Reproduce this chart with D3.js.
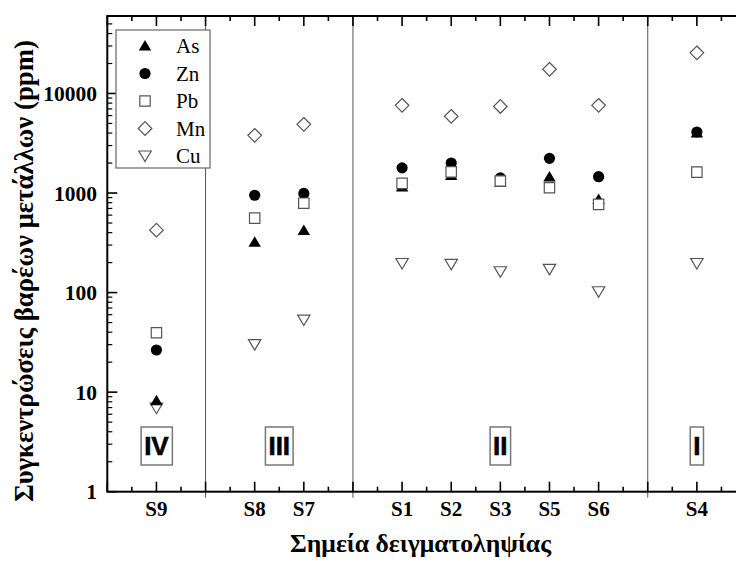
<!DOCTYPE html>
<html>
<head>
<meta charset="utf-8">
<script src="https://cdn.jsdelivr.net/npm/d3@7"></script>
<style>
  html, body { margin: 0; padding: 0; background: #fff; }
  svg { display: block; }
</style>
</head>
<body>
<svg id="chart" width="736" height="563"></svg>
<script>
// Sampling sites, grouped into zones IV..I (left to right)
const zones = ["IV", "III", "II", "I"];
const zoneSamples = [["S9"], ["S8", "S7"], ["S1", "S2", "S3", "S5", "S6"], ["S4"]];
const samples = ["S9", "S8", "S7", "S1", "S2", "S3", "S5", "S6", "S4"];

// Heavy-metal concentrations (ppm) per sample, same order as `samples`
const As = [8.2, 320, 420, 1150, 1500, 1280, 1450, 860, 4000];
const Zn = [26.5, 950, 990, 1790, 2000, 1420, 2230, 1460, 4100];
const Pb = [39.5, 560, 790, 1250, 1630, 1320, 1130, 770, 1620];
const Mn = [424, 3800, 4900, 7600, 5900, 7400, 17500, 7600, 25600];
const Cu = [6.9, 30, 53, 196, 192, 162, 171, 102, 196];

const yTicks = [1, 10, 100, 1000, 10000];
const yTitle = "Συγκεντρώσεις βαρέων μετάλλων (ppm)";
const xTitle = "Σημεία δειγματοληψίας";

// Slot layout: each zone takes one slot per sample plus a gap slot
const slot = {};
const boundaries = [0];
let cursor = 0;
const zoneCenter = [];
zoneSamples.forEach(list => {
  list.forEach((s, i) => { slot[s] = cursor + i + 1; });
  zoneCenter.push(cursor + (list.length + 1) / 2);
  cursor += list.length + 1;
  boundaries.push(cursor);
});
const xMax = cursor;

const svg = d3.select("#chart");
const pLeft = 107.3, pTop = 16, pBottom = 491.7, pRight = 746;

const x = d3.scaleLinear().domain([0, xMax]).range([pLeft, pRight]);
const y = d3.scaleLog().domain([1, 60000]).range([pBottom, pTop]);

const serif = "'Liberation Serif', 'Times New Roman', serif";
const sans = "'Liberation Sans', Arial, sans-serif";

// zone separators
svg.append("g").selectAll("line")
  .data(boundaries.slice(1, -1))
  .join("line")
  .attr("x1", d => x(d)).attr("x2", d => x(d))
  .attr("y1", pTop).attr("y2", pBottom + 6)
  .attr("stroke", "#555").attr("stroke-width", 1);

// tick sets
const yMinor = [];
for (let e = 0; e < 5; e++) for (let m = 2; m <= 9; m++) {
  const v = m * Math.pow(10, e);
  if (v < 60000) yMinor.push(v);
}
const xMajor = d3.range(0, xMax + 1);
const xMinor = d3.range(0, xMax).map(d => d + 0.5);

const ticks = svg.append("g").attr("stroke", "#000").attr("stroke-width", 1.6);
// left & right y ticks (inward)
[[pLeft, 1], [pRight, -1]].forEach(([ax, dir]) => {
  ticks.append("g").selectAll("line").data(yTicks).join("line")
    .attr("x1", ax).attr("x2", ax + dir * 10)
    .attr("y1", d => y(d)).attr("y2", d => y(d));
  ticks.append("g").selectAll("line").data(yMinor).join("line")
    .attr("x1", ax).attr("x2", ax + dir * 5)
    .attr("y1", d => y(d)).attr("y2", d => y(d))
    .attr("stroke-width", 1.2);
});
// bottom & top x ticks (inward)
[[pBottom, -1], [pTop, 1]].forEach(([ay, dir]) => {
  ticks.append("g").selectAll("line").data(xMajor).join("line")
    .attr("x1", d => x(d)).attr("x2", d => x(d))
    .attr("y1", ay).attr("y2", ay + dir * 10);
  ticks.append("g").selectAll("line").data(xMinor).join("line")
    .attr("x1", d => x(d)).attr("x2", d => x(d))
    .attr("y1", ay).attr("y2", ay + dir * 5);
});

// frame
svg.append("rect")
  .attr("x", pLeft).attr("y", pTop)
  .attr("width", pRight - pLeft).attr("height", pBottom - pTop)
  .attr("fill", "none").attr("stroke", "#000").attr("stroke-width", 2);

// y tick labels
svg.append("g").selectAll("text").data(yTicks).join("text")
  .attr("x", 97).attr("y", d => y(d))
  .attr("dy", "0.35em")
  .attr("text-anchor", "end")
  .attr("font-family", serif).attr("font-weight", "bold").attr("font-size", 21.5)
  .text(d => d3.format("d")(d));

// x tick labels
svg.append("g").selectAll("text").data(samples).join("text")
  .attr("x", d => x(slot[d])).attr("y", 516)
  .attr("text-anchor", "middle")
  .attr("font-family", serif).attr("font-weight", "bold").attr("font-size", 21)
  .text(d => d);

// axis titles, sized to their span along the axis
function fitTitle(sel, span) {
  const w = sel.node().getComputedTextLength();
  const fs = parseFloat(sel.attr("font-size"));
  sel.attr("font-size", fs * span / w);
}

const yt = svg.append("text")
  .attr("transform", "translate(33, 271) rotate(-90)")
  .attr("text-anchor", "middle")
  .attr("font-family", serif).attr("font-weight", "bold").attr("font-size", 24)
  .text(yTitle);
fitTitle(yt, 462);

const xt = svg.append("text")
  .attr("x", 420.5).attr("y", 552)
  .attr("text-anchor", "middle")
  .attr("font-family", serif).attr("font-weight", "bold").attr("font-size", 25)
  .text(xTitle);
fitTitle(xt, 261);

// zone labels in boxes
const zoneG = svg.append("g");
zones.forEach((z, i) => {
  const g = zoneG.append("g");
  const t = g.append("text")
    .attr("x", x(zoneCenter[i])).attr("y", 446)
    .attr("dy", "0.36em")
    .attr("text-anchor", "middle")
    .attr("font-family", sans).attr("font-weight", "bold").attr("font-size", 26)
    .attr("stroke", "#000").attr("stroke-width", 0.6)
    .text(z);
  const bb = t.node().getBBox();
  const padX = 3;
  g.insert("rect", "text")
    .attr("x", bb.x - padX).attr("y", 427)
    .attr("width", bb.width + 2 * padX).attr("height", 38)
    .attr("fill", "#fff").attr("stroke", "#777").attr("stroke-width", 1.5);
});

// marker shapes
const shapes = {
  triUp: { draw(c) { c.moveTo(0, -6); c.lineTo(6.2, 4.5); c.lineTo(-6.2, 4.5); c.closePath(); } },
  triDown: { draw(c) { c.moveTo(0, 5.5); c.lineTo(6.2, -5); c.lineTo(-6.2, -5); c.closePath(); } },
  circle: { draw(c) { c.moveTo(5.6, 0); c.arc(0, 0, 5.6, 0, 2 * Math.PI); } },
  square: { draw(c) { c.rect(-5.2, -5.2, 10.4, 10.4); } },
  diamond: { draw(c) { c.moveTo(0, -6.8); c.lineTo(6.8, 0); c.lineTo(0, 6.8); c.lineTo(-6.8, 0); c.closePath(); } }
};

const series = [
  { name: "As", values: As, shape: "triUp", fill: "#000", stroke: "none" },
  { name: "Zn", values: Zn, shape: "circle", fill: "#000", stroke: "none" },
  { name: "Pb", values: Pb, shape: "square", fill: "#fff", stroke: "#555" },
  { name: "Mn", values: Mn, shape: "diamond", fill: "#fff", stroke: "#555" },
  { name: "Cu", values: Cu, shape: "triDown", fill: "#fff", stroke: "#555" }
];

// drawing order: Cu, Mn, As, Zn, Pb (open squares sit on top)
const drawOrder = ["Cu", "Mn", "As", "Zn", "Pb"];
const marks = svg.append("g");
drawOrder.forEach(n => {
  const s = series.find(d => d.name === n);
  marks.append("g").selectAll("path")
    .data(samples.map((smp, i) => ({ smp, v: s.values[i] })))
    .join("path")
    .attr("transform", d => `translate(${x(slot[d.smp])},${y(d.v)})`)
    .attr("d", d3.symbol().type(shapes[s.shape]))
    .attr("fill", s.fill).attr("stroke", s.stroke).attr("stroke-width", 1.2);
});

// legend
const lg = svg.append("g");
lg.append("rect")
  .attr("x", 116).attr("y", 30).attr("width", 94).attr("height", 138)
  .attr("fill", "#fff").attr("stroke", "#666").attr("stroke-width", 1.2);
series.forEach((s, i) => {
  const yy = 46 + i * 27.5;
  lg.append("path")
    .attr("transform", `translate(145,${yy})`)
    .attr("d", d3.symbol().type(shapes[s.shape]))
    .attr("fill", s.fill).attr("stroke", s.stroke).attr("stroke-width", 1.2);
  lg.append("text")
    .attr("x", 176).attr("y", yy).attr("dy", "0.35em")
    .attr("font-family", serif).attr("font-size", 21)
    .text(s.name);
});
</script>
</body>
</html>
